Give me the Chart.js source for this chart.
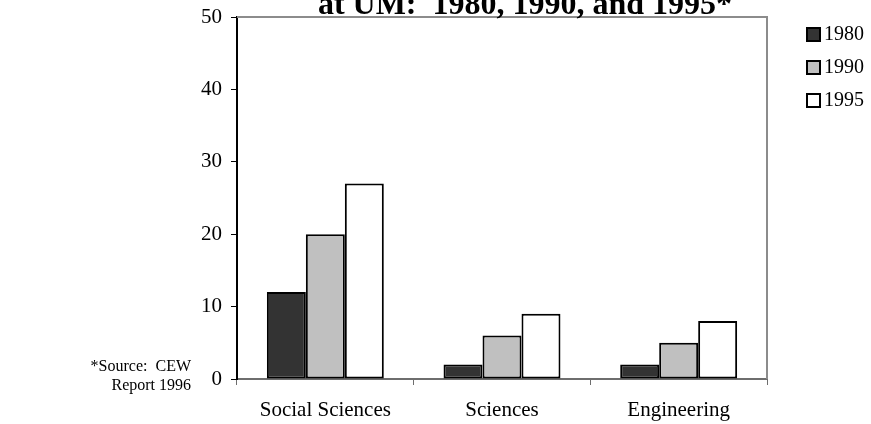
<!DOCTYPE html>
<html lang="en">
<head>
    <meta charset="UTF-8">
    <title>Women at UM: 1980, 1990, and 1995</title>
    <script src="https://cdn.jsdelivr.net/npm/chart.js"></script>
    <style>
        body {
            margin: 0;
            padding: 0;
            background: white;
        }
        .chart-box {
            width: 871px;
            height: 424px;
            position: relative;
        }
    </style>
</head>
<body>
    <div class="chart-box">
        <canvas id="umChart"></canvas>
    </div>

    <script>
        // data
        const categories = ["Social Sciences", "Sciences", "Engineering"];
        const years = ["1980", "1990", "1995"];
        const values1980 = [12, 2, 2];
        const values1990 = [20, 6, 5];
        const values1995 = [27, 9, 8];
        const titleText = "at UM:  1980, 1990, and 1995*";
        const sourceLines = ["*Source:  CEW", "Report 1996"];

        const serif = "'Liberation Serif', 'Times New Roman', serif";
        const fills = ["#333333", "#c0c0c0", "#ffffff"];

        // gray frame on top and right of the plot, title, legend and source note
        const extras = {
            id: "extras",
            beforeDatasetsDraw(chart) {
                const { ctx, chartArea: a } = chart;
                ctx.save();
                ctx.strokeStyle = "#8c8c8c";
                ctx.lineWidth = 2;
                ctx.beginPath();
                ctx.moveTo(a.left, a.top);
                ctx.lineTo(a.right, a.top);
                ctx.lineTo(a.right, a.bottom);
                ctx.stroke();
                ctx.restore();
            },
            afterDraw(chart) {
                const ctx = chart.ctx;
                ctx.save();
                ctx.fillStyle = "#000";

                // title, clipped at the top like the original
                ctx.font = "bold 32px " + serif;
                ctx.textAlign = "center";
                ctx.textBaseline = "alphabetic";
                ctx.fillText(titleText, 525, 14);

                // legend
                ctx.font = "20px " + serif;
                ctx.textAlign = "left";
                ctx.textBaseline = "middle";
                chart.data.datasets.forEach((ds, i) => {
                    const y = 34 + i * 33;
                    ctx.fillStyle = ds.backgroundColor;
                    ctx.fillRect(807, y - 6, 13, 13);
                    ctx.strokeStyle = "#000";
                    ctx.lineWidth = 2;
                    ctx.strokeRect(807, y - 6, 13, 13);
                    ctx.fillStyle = "#000";
                    ctx.fillText(ds.label, 824, y + 1);
                });

                // source note
                ctx.font = "16px " + serif;
                ctx.textAlign = "right";
                ctx.fillText(sourceLines[0], 191, 367);
                ctx.fillText(sourceLines[1], 191, 386);
                ctx.restore();
            }
        };

        const ctx = document.getElementById("umChart").getContext("2d");
        const umChart = new Chart(ctx, {
            type: "bar",
            data: {
                labels: categories,
                datasets: [
                    { label: years[0], data: values1980, backgroundColor: fills[0] },
                    { label: years[1], data: values1990, backgroundColor: fills[1] },
                    { label: years[2], data: values1995, backgroundColor: fills[2] }
                ].map(d => Object.assign(d, {
                    borderColor: "#000",
                    borderWidth: 2,
                    borderSkipped: false,
                    categoryPercentage: 0.662,
                    barPercentage: 1
                }))
            },
            options: {
                responsive: true,
                maintainAspectRatio: false,
                animation: false,
                layout: { padding: { left: 0, right: 104, top: 17, bottom: 0 } },
                plugins: {
                    legend: { display: false },
                    tooltip: { enabled: false }
                },
                scales: {
                    x: {
                        grid: {
                            offset: true,
                            drawOnChartArea: false,
                            tickLength: 6,
                            color: "#6e6e6e"
                        },
                        border: { color: "#6e6e6e", width: 2 },
                        ticks: {
                            color: "#000",
                            font: { family: serif, size: 21 },
                            padding: 13,
                            maxRotation: 0
                        },
                        afterFit(scale) { scale.height = 45; }
                    },
                    y: {
                        min: 0,
                        max: 50,
                        grid: {
                            drawOnChartArea: false,
                            tickLength: 6,
                            color: "#000"
                        },
                        border: { color: "#000", width: 2 },
                        ticks: {
                            stepSize: 10,
                            color: "#000",
                            font: { family: serif, size: 21 },
                            padding: 9
                        },
                        afterFit(scale) {
                            scale.width = 237;
                            scale.paddingTop = 0;
                            scale.paddingBottom = 0;
                        }
                    }
                }
            },
            plugins: [extras]
        });
    </script>
</body>
</html>
